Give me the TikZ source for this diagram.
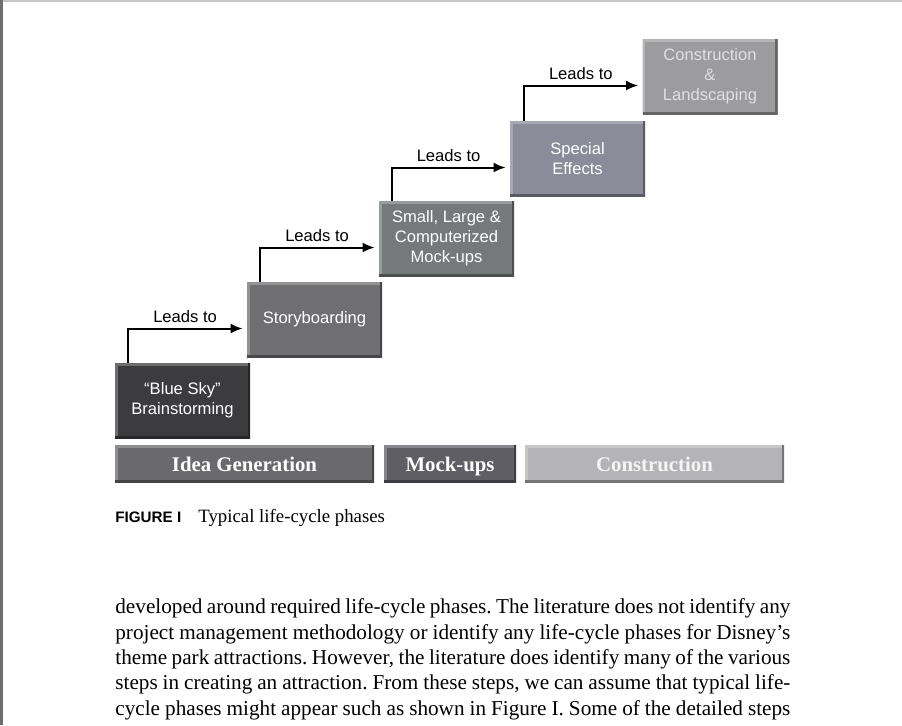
\documentclass[tikz,border=0pt]{standalone}
\usepackage{fontspec}
\setmainfont{Liberation Serif}
\setsansfont{Liberation Sans}
\usetikzlibrary{positioning, calc, arrows.meta}

\definecolor{skygray}{HTML}{3C3C3E}
\definecolor{storygray}{HTML}{6F6F72}
\definecolor{mockgray}{HTML}{76797A}
\definecolor{effectgray}{HTML}{8B8B9A}
\definecolor{buildgray}{HTML}{9C9C9E}
\definecolor{ideabar}{HTML}{6A6A6C}
\definecolor{mockbar}{HTML}{5E5E64}
\definecolor{buildbar}{HTML}{B4B4B6}
\definecolor{framegray}{HTML}{6E6E6E}

\newcommand{\bodyline}[1]{\makebox[337.5pt][s]{#1}}
\frenchspacing

\begin{document}
\begin{tikzpicture}[
    x=0.5pt, y=-0.5pt,
    bevel/.style={fill=#1, path picture={
        \draw[line width=2.5pt, #1!75!white] (path picture bounding box.south west) -- (path picture bounding box.north west) -- (path picture bounding box.north east);
        \draw[line width=2.5pt, #1!65!black] (path picture bounding box.north east) -- (path picture bounding box.south east) -- (path picture bounding box.south west);
    }},
    stagebox/.style={bevel=#1, minimum width=67.5pt, minimum height=37.5pt, inner sep=0pt,
        align=center, text=white, font=\fontsize{8.3}{10}\selectfont\sffamily},
    phasebar/.style={bevel=#1, minimum height=18.5pt, inner sep=0pt, text=white,
        text height=8.5pt, text depth=1pt, font=\fontsize{10.4}{12}\selectfont\bfseries},
    leads/.style={-{Latex[length=6pt, width=5pt]}, line width=1pt},
    leadlabel/.style={font=\fontsize{8.3}{10}\selectfont\sffamily, inner sep=1pt, above=1.5pt},
    bodytext/.style={anchor=base west, inner sep=0pt, font=\fontsize{10.6}{12}\selectfont}
]
    \useasboundingbox (0,0) rectangle (902,725);

    % page edges
    \fill[framegray] (0,0) rectangle (2.5,725);
    \fill[black!22] (2.5,0) rectangle (902,2);

    % stages
    \node[stagebox=skygray] (sky) at (182.5,400.5) {``Blue Sky''\\Brainstorming};
    \node[stagebox=storygray] (story) at (314.5,319.5) {Storyboarding};
    \node[stagebox=mockgray] (mock) at (446.5,238.5) {Small, Large \&\\Computerized\\Mock-ups};
    \node[stagebox=effectgray] (effects) at (577.5,158.5) {Special\\Effects};
    \node[stagebox=buildgray, text=black!12] (build) at (710,76.5) {Construction\\\&\\Landscaping};

    % leads to
    \draw[leads] ($(sky.north west)+(13,0)$) |- ($(story.west)+(-4,9)$) node[leadlabel, pos=0.75] (lead1) {Leads to};
    \draw[leads] ($(story.north west)+(13,0)$) |- ($(mock.west)+(-4,9)$) node[leadlabel, pos=0.75] (lead2) {Leads to};
    \draw[leads] ($(mock.north west)+(13,0)$) |- ($(effects.west)+(-4,9)$) node[leadlabel, pos=0.75] (lead3) {Leads to};
    \draw[leads] ($(effects.north west)+(14,0)$) |- ($(build.west)+(-4,9)$) node[leadlabel, pos=0.75] (lead4) {Leads to};

    % phases
    \node[phasebar=ideabar, minimum width=129.5pt] (idea) at (244.5,463.5) {Idea Generation};
    \node[phasebar=mockbar, minimum width=66pt] (mockups) at (450,463.5) {Mock-ups};
    \node[phasebar=buildbar, minimum width=129.5pt, text=black!4] (construction) at (654.5,463.5) {Construction};

    % caption
    \node[anchor=base west, inner sep=0pt, font=\fontsize{7.6}{9}\selectfont\sffamily\bfseries] (figlabel) at (115,522) {FIGURE I};
    \node[anchor=base west, inner sep=0pt, font=\fontsize{9.4}{11}\selectfont] (figtitle) at (198,522) {Typical life-cycle phases};

    % running text
    \node[bodytext] (line1) at (115,613) {\bodyline{developed around required life-cycle phases. The literature does not identify any}};
    \node[bodytext] (line2) at (115,639) {\bodyline{project management methodology or identify any life-cycle phases for Disney’s}};
    \node[bodytext] (line3) at (115,664) {\bodyline{theme park attractions. However, the literature does identify many of the various}};
    \node[bodytext] (line4) at (115,689.5) {\bodyline{steps in creating an attraction. From these steps, we can assume that typical life-}};
    \node[bodytext] (line5) at (115,715) {\bodyline{cycle phases might appear such as shown in Figure I. Some of the detailed steps}};
\end{tikzpicture}
\end{document}
